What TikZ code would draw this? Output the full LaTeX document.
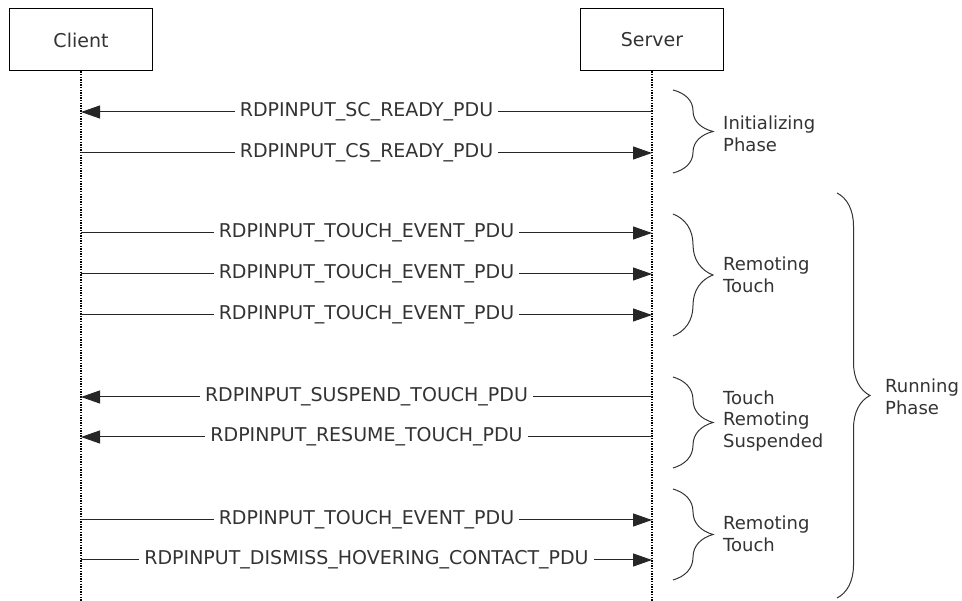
\documentclass[tikz,border=0pt]{standalone}
\usepackage{fontspec}
\setmainfont{DejaVu Sans}
\usetikzlibrary{arrows.meta, decorations.pathreplacing}
\tikzstyle{party} = [rectangle, draw=black, line width=1pt, minimum width=143pt, minimum height=62pt, text centered, text=black!80, font=\fontsize{19}{22}\selectfont]
\tikzstyle{lifeline} = [draw=black, line width=1.3pt, dash pattern=on 1.3pt off 1.3pt]
\tikzstyle{msg} = [draw=black!85, line width=1pt, -{Triangle[length=19pt,width=13pt]}]
\tikzstyle{pdu} = [fill=white, inner xsep=5pt, inner ysep=2pt, text=black!80, font=\fontsize{19}{22}\selectfont]
\tikzstyle{phase} = [draw=black!80, line width=1pt, decorate, decoration={brace, amplitude=40pt}]
\tikzstyle{phasetext} = [anchor=west, align=left, inner sep=0pt, text=black!80, font=\fontsize{18}{21.5}\selectfont]

\begin{document}
\begin{tikzpicture}[x=1pt, y=-1pt]
\useasboundingbox (0,0) rectangle (962,601);
\node (client) [party] at (81,40) {Client};
\node (server) [party] at (652,40) {Server};
\coordinate (cend) at (81,601);
\coordinate (send) at (652,601);
\draw [lifeline] (client.south) -- (cend);
\draw [lifeline] (server.south) -- (send);

\coordinate (c1) at (81,112);  \coordinate (s1) at (652,112);
\coordinate (c2) at (81,153);  \coordinate (s2) at (652,153);
\coordinate (c3) at (81,233);  \coordinate (s3) at (652,233);
\coordinate (c4) at (81,274);  \coordinate (s4) at (652,274);
\coordinate (c5) at (81,315);  \coordinate (s5) at (652,315);
\coordinate (c6) at (81,397);  \coordinate (s6) at (652,397);
\coordinate (c7) at (81,437);  \coordinate (s7) at (652,437);
\coordinate (c8) at (81,520);  \coordinate (s8) at (652,520);
\coordinate (c9) at (81,560);  \coordinate (s9) at (652,560);

\draw [msg] (s1) -- node[pdu]{RDPINPUT\_SC\_READY\_PDU} (c1);
\draw [msg] (c2) -- node[pdu]{RDPINPUT\_CS\_READY\_PDU} (s2);
\draw [msg] (c3) -- node[pdu]{RDPINPUT\_TOUCH\_EVENT\_PDU} (s3);
\draw [msg] (c4) -- node[pdu]{RDPINPUT\_TOUCH\_EVENT\_PDU} (s4);
\draw [msg] (c5) -- node[pdu]{RDPINPUT\_TOUCH\_EVENT\_PDU} (s5);
\draw [msg] (s6) -- node[pdu]{RDPINPUT\_SUSPEND\_TOUCH\_PDU} (c6);
\draw [msg] (s7) -- node[pdu]{RDPINPUT\_RESUME\_TOUCH\_PDU} (c7);
\draw [msg] (c8) -- node[pdu]{RDPINPUT\_TOUCH\_EVENT\_PDU} (s8);
\draw [msg] (c9) -- node[pdu]{RDPINPUT\_DISMISS\_HOVERING\_CONTACT\_PDU} (s9);

\coordinate (b1) at (673,90);   \coordinate (e1) at (673,173);
\coordinate (b2) at (673,214);  \coordinate (e2) at (673,336);
\coordinate (b3) at (673,377);  \coordinate (e3) at (673,468);
\coordinate (b4) at (673,489);  \coordinate (e4) at (673,580);
\coordinate (b5) at (837,193);  \coordinate (e5) at (837,598);
\draw [phase] (b1) -- (e1);
\draw [phase] (b2) -- (e2);
\draw [phase] (b3) -- (e3);
\draw [phase] (b4) -- (e4);
\draw [phase, decoration={amplitude=33pt}] (b5) -- (e5);

\node (init) [phasetext] at (723,134) {Initializing\\Phase};
\node (touch1) [phasetext] at (723,275) {Remoting\\Touch};
\node (susp) [phasetext] at (723,421) {Touch\\Remoting\\Suspended};
\node (touch2) [phasetext] at (723,534) {Remoting\\Touch};
\node (run) [phasetext] at (885,397) {Running\\Phase};
\end{tikzpicture}
\end{document}
